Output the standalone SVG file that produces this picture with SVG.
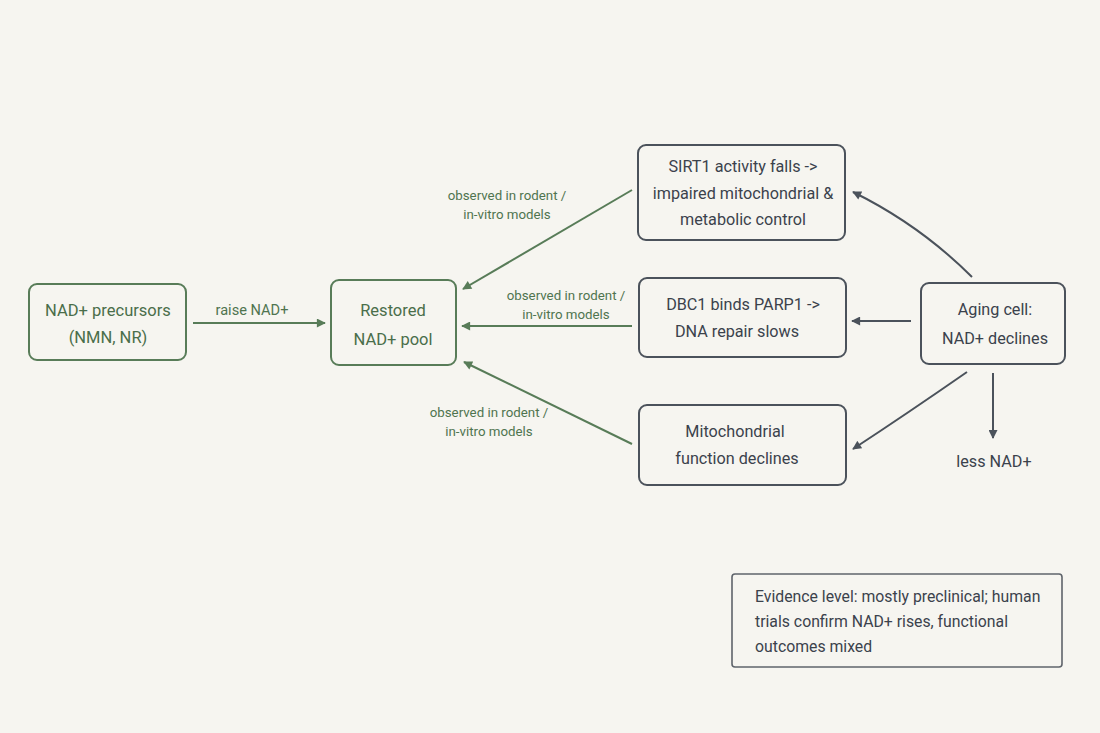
<svg xmlns="http://www.w3.org/2000/svg" width="1100" height="733" viewBox="0 0 1100 733">
<defs>
<style>
.bg{fill:#f6f5f0}
.gbox{fill:#f6f5f0;stroke:#587c58;stroke-width:2}
.dbox{fill:#f6f5f0;stroke:#4b525b;stroke-width:2}
.ebox{fill:#f6f5f0;stroke:#5f646b;stroke-width:1.6}
.gt{font-family:Roboto,"Liberation Sans",sans-serif;font-size:16.5px;fill:#4a6e4a;text-anchor:middle}
.dt{font-family:Roboto,"Liberation Sans",sans-serif;font-size:16.2px;fill:#3b424c;text-anchor:middle}
.lt{font-family:Roboto,"Liberation Sans",sans-serif;font-size:13.3px;fill:#4f744f;text-anchor:middle}
.et{font-family:Roboto,"Liberation Sans",sans-serif;font-size:15.8px;fill:#3b424c}
.gl{fill:none;stroke:#587c58;stroke-width:2}
.dl{fill:none;stroke:#4b525b;stroke-width:2}
</style>
<marker id="ag" viewBox="0 0 10 10" refX="9" refY="5" markerWidth="10" markerHeight="9" markerUnits="userSpaceOnUse" orient="auto">
<path d="M0,0 L10,5 L0,10 z" fill="#587c58"/>
</marker>
<marker id="ad" viewBox="0 0 10 10" refX="9" refY="5" markerWidth="10" markerHeight="9" markerUnits="userSpaceOnUse" orient="auto">
<path d="M0,0 L10,5 L0,10 z" fill="#4b525b"/>
</marker>
</defs>
<rect class="bg" x="0" y="0" width="1100" height="733"/>

<g id="connectors">
<line class="gl" x1="193" y1="323" x2="325" y2="323" marker-end="url(#ag)"/>
<text class="lt" x="252" y="315" style="font-size:14.6px">raise NAD+</text>
<line class="gl" x1="632" y1="190" x2="463" y2="289" marker-end="url(#ag)"/>
<text class="lt" x="507" y="200">observed in rodent /</text>
<text class="lt" x="507" y="219">in-vitro models</text>
<line class="gl" x1="632" y1="326" x2="462" y2="326" marker-end="url(#ag)"/>
<text class="lt" x="566" y="300">observed in rodent /</text>
<text class="lt" x="566" y="319">in-vitro models</text>
<line class="gl" x1="632" y1="444" x2="464" y2="362" marker-end="url(#ag)"/>
<text class="lt" x="489" y="417">observed in rodent /</text>
<text class="lt" x="489" y="436">in-vitro models</text>
<path class="dl" d="M972,277 Q920,225 853,192" marker-end="url(#ad)"/>
<line class="dl" x1="911" y1="321" x2="852" y2="321" marker-end="url(#ad)"/>
<path class="dl" d="M967,372 Q905,415 853,449" marker-end="url(#ad)"/>
<line class="dl" x1="993" y1="373" x2="993" y2="438" marker-end="url(#ad)"/>
<text class="dt" x="994" y="467">less NAD+</text>
</g>

<g id="precursors">
<rect class="gbox" x="29" y="284" width="157" height="76" rx="8"/>
<text class="gt" x="108" y="316">NAD+ precursors</text>
<text class="gt" x="108" y="343">(NMN, NR)</text>
</g>

<g id="restored">
<rect class="gbox" x="331" y="280" width="125" height="85" rx="8"/>
<text class="gt" x="393" y="316">Restored</text>
<text class="gt" x="393" y="345">NAD+ pool</text>
</g>

<g id="sirt1">
<rect class="dbox" x="638" y="145" width="207" height="95" rx="8"/>
<text class="dt" x="743" y="172">SIRT1 activity falls -&gt;</text>
<text class="dt" x="743" y="199">impaired mitochondrial &amp;</text>
<text class="dt" x="743" y="225">metabolic control</text>
</g>

<g id="dbc1">
<rect class="dbox" x="639" y="278" width="207" height="79" rx="8"/>
<text class="dt" x="743" y="310">DBC1 binds PARP1 -&gt;</text>
<text class="dt" x="737" y="337">DNA repair slows</text>
</g>

<g id="mito">
<rect class="dbox" x="639" y="405" width="207" height="80" rx="8"/>
<text class="dt" x="735" y="437">Mitochondrial</text>
<text class="dt" x="737" y="464">function declines</text>
</g>

<g id="aging">
<rect class="dbox" x="921" y="283" width="144" height="81" rx="8"/>
<text class="dt" x="995" y="315">Aging cell:</text>
<text class="dt" x="995" y="344">NAD+ declines</text>
</g>

<g id="evidence">
<rect class="ebox" x="732" y="574" width="330" height="93" rx="3"/>
<text class="et" x="755" y="602">Evidence level: mostly preclinical; human</text>
<text class="et" x="755" y="627">trials confirm NAD+ rises, functional</text>
<text class="et" x="755" y="652">outcomes mixed</text>
</g>
</svg>
